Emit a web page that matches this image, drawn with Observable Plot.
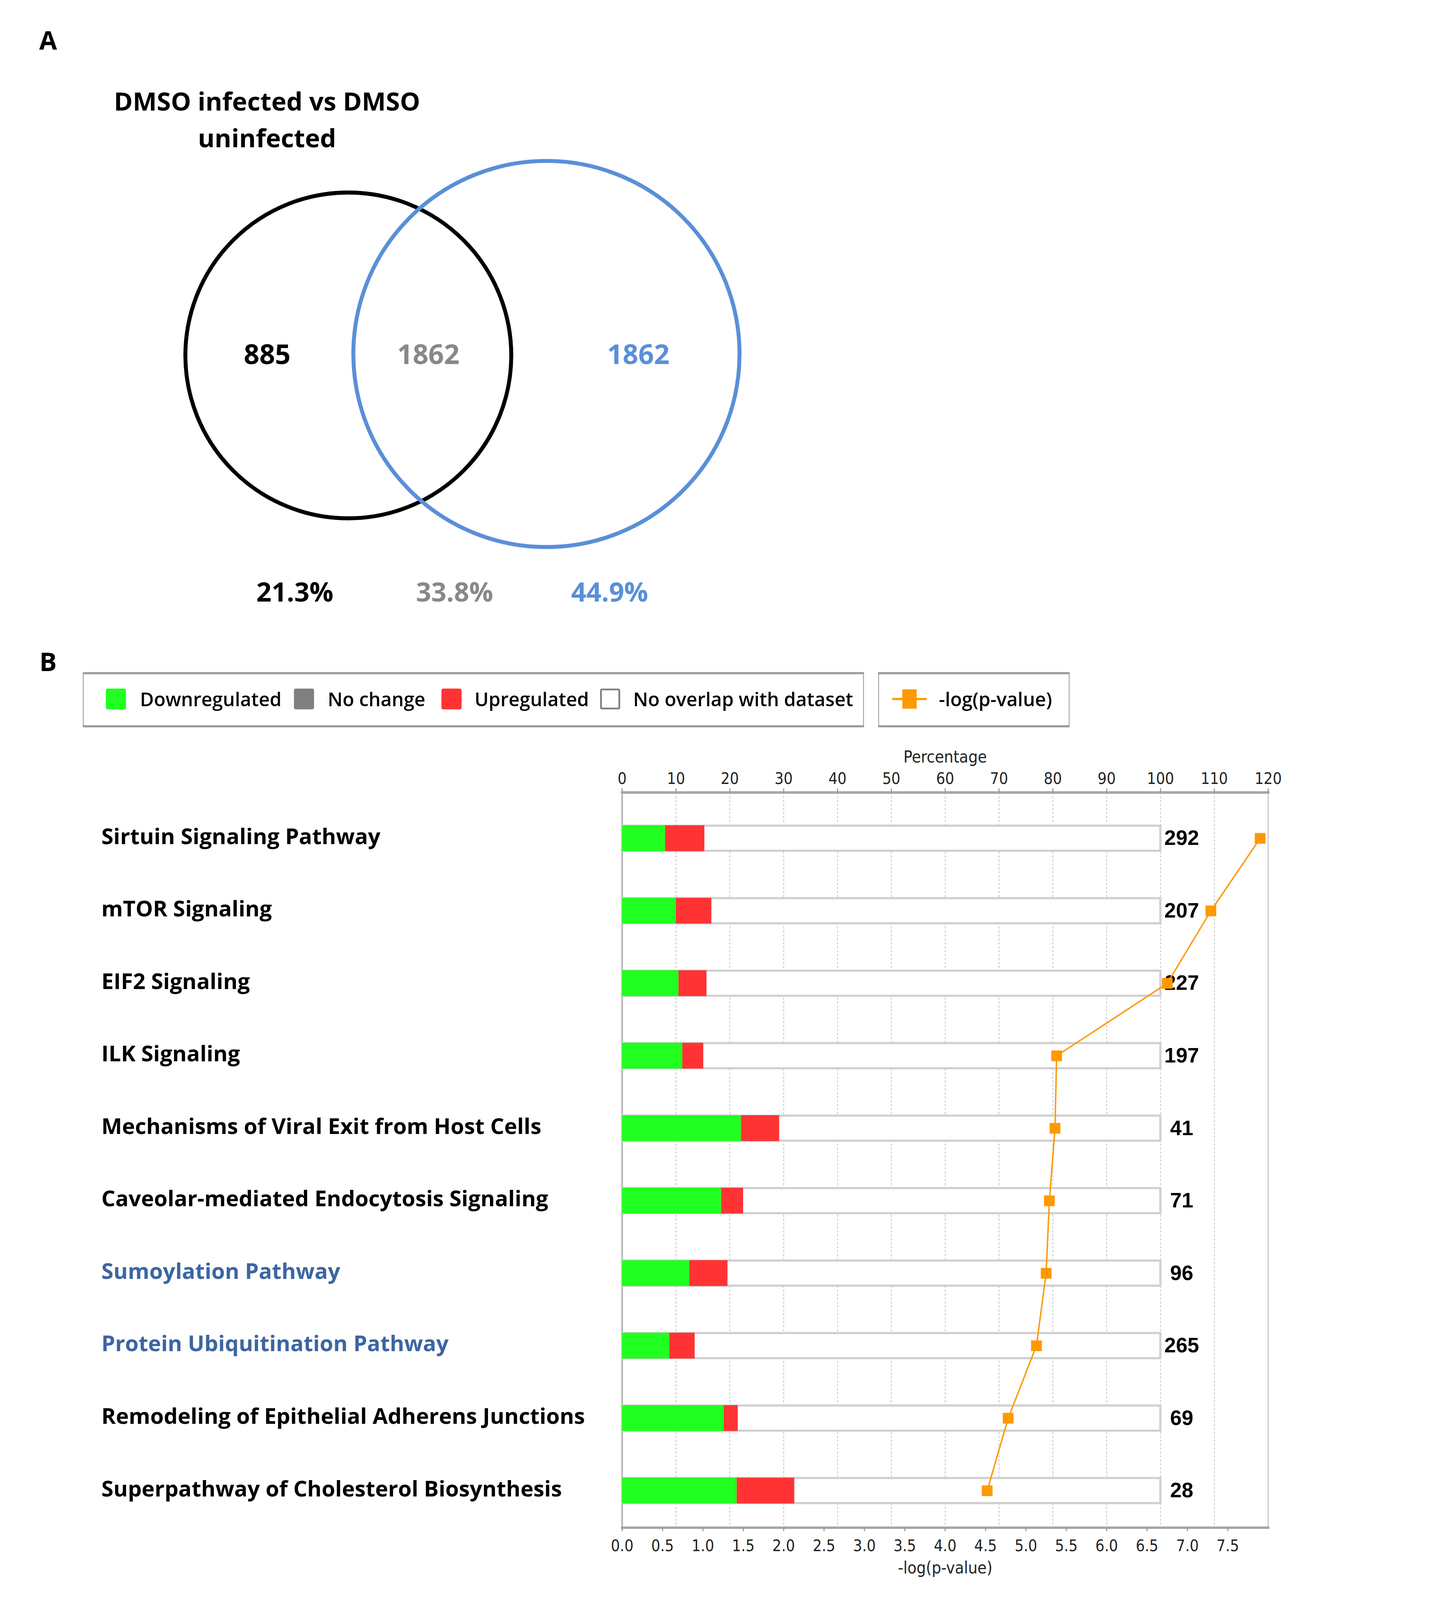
<!DOCTYPE html>
<html>
<head>
<meta charset="utf-8">
<script src="https://cdn.jsdelivr.net/npm/d3@7"></script>
<script src="https://cdn.jsdelivr.net/npm/@observablehq/plot@0.6"></script>
<style>
  html, body { margin: 0; padding: 0; background: #fff; overflow: hidden; }
  #page { position: relative; width: 3683px; height: 4459px; background: #fff; overflow: hidden; font-family: "Open Sans", Lato, sans-serif; transform-origin: 0 0; }
  .abs { position: absolute; white-space: nowrap; }
  .c { transform: translate(-50%, -50%); }
  .l { transform: translate(0, -50%); }
  .layer { position: absolute; left: 0; }
</style>
</head>
<body>
<div id="page"></div>
<script>
// ---------------- DATA ----------------
// Panel A (Venn)
const vennTitle = ["DMSO infected vs DMSO", "uninfected"];
const vennCounts = [885, 1862, 1862];
const vennPercents = ["21.3%", "33.8%", "44.9%"];

// Panel B (pathways)
const pathways = [
  "Sirtuin Signaling Pathway",
  "mTOR Signaling",
  "EIF2 Signaling",
  "ILK Signaling",
  "Mechanisms of Viral Exit from Host Cells",
  "Caveolar-mediated Endocytosis Signaling",
  "Sumoylation Pathway",
  "Protein Ubiquitination Pathway",
  "Remodeling of Epithelial Adherens Junctions",
  "Superpathway of Cholesterol Biosynthesis"
];
const downregulatedPct = [8.0, 10.0, 10.5, 11.2, 22.1, 18.4, 12.5, 8.8, 18.9, 21.3];
const upregulatedPct   = [7.3, 6.6, 5.2, 3.9, 7.1, 4.1, 7.1, 4.7, 2.6, 10.7];
const pathwaySizes     = [292, 207, 227, 197, 41, 71, 96, 265, 69, 28];
const negLogPValues    = [7.90, 7.29, 6.75, 5.38, 5.36, 5.29, 5.25, 5.13, 4.78, 4.52];
const highlightedPathways = ["Sumoylation Pathway", "Protein Ubiquitination Pathway"];

const percentTicks = [0, 10, 20, 30, 40, 50, 60, 70, 80, 90, 100, 110, 120];
const pValueTicks = [0, 0.5, 1, 1.5, 2, 2.5, 3, 3.5, 4, 4.5, 5, 5.5, 6, 6.5, 7, 7.5];
const legendCategories = ["Downregulated", "No change", "Upregulated", "No overlap with dataset"];
const lineLegendLabel = "-log(p-value)";

// ---------------- STYLE / LAYOUT ----------------
const GREEN = "#20ff20", GREY = "#808080", RED = "#ff3333", ORANGE = "#ff9900";
const VBLUE = "#5a8fd8", VGREY = "#888888", LBLUE = "#3c66a2";
const categoryColors = [GREEN, GREY, RED, "#ffffff"];
const tickFont = '"Liberation Sans Narrow", "DejaVu Sans Condensed", Roboto, sans-serif';
const labelFont = '"Open Sans", Lato, sans-serif';

const page = document.getElementById("page");
function addText(txt, x, y, cls, css) {
  const d = document.createElement("div");
  d.className = "abs " + cls;
  d.textContent = txt;
  d.style.left = x + "px";
  d.style.top = y + "px";
  Object.assign(d.style, css || {});
  page.appendChild(d);
  return d;
}

// Panel letters
addText("A", 134, 110, "c", {fontFamily: labelFont, fontWeight: 700, fontSize: "72px"});
addText("B", 134, 1842, "c", {fontFamily: labelFont, fontWeight: 700, fontSize: "72px"});

// ---------------- PANEL A : Venn ----------------
vennTitle.forEach((t, i) => addText(t, 744, 281 + i * 102, "c",
  {fontFamily: labelFont, fontWeight: 700, fontSize: "71px", color: "#000"}));

const vennCircles = [
  {cx: 970, cy: 990, r: 454, stroke: "#000000"},
  {cx: 1522, cy: 986, r: 538, stroke: VBLUE}
];
const vennNumPos = [[744, 990], [1193, 990], [1778, 990]];
const vennPctPos = [[821, 1652], [1266, 1652], [1698, 1652]];
const vennTextColors = ["#000000", VGREY, VBLUE];

const vennPlot = Plot.plot({
  width: 2200, height: 1750,
  margin: 0,
  x: {domain: [0, 2200], range: [0, 2200], axis: null},
  y: {domain: [0, 1750], range: [0, 1750], axis: null},
  r: {type: "linear", domain: [0, 1000], range: [0, 1000]},
  style: {background: "transparent", overflow: "visible"},
  marks: [
    ...vennCircles.map(c => Plot.dot([c], {x: "cx", y: "cy", r: "r", stroke: c.stroke, strokeWidth: 11, fill: "none"})),
    ...vennCounts.map((v, i) => Plot.text([v], {
      x: () => vennNumPos[i][0], y: () => vennNumPos[i][1], text: d => String(d),
      fill: vennTextColors[i], fontSize: 76, fontWeight: 700, fontFamily: labelFont, textAnchor: "middle"
    })),
    ...vennPercents.map((v, i) => Plot.text([v], {
      x: () => vennPctPos[i][0], y: () => vennPctPos[i][1], text: d => d,
      fill: vennTextColors[i], fontSize: 74, fontWeight: 700, fontFamily: labelFont, textAnchor: "middle"
    }))
  ]
});
vennPlot.classList.add("layer");
vennPlot.style.top = "0px";
page.appendChild(vennPlot);

// ---------------- LEGEND ----------------
function box(left, top, w, h) {
  const b = document.createElement("div");
  b.className = "abs";
  Object.assign(b.style, {left: left + "px", top: top + "px", width: w + "px", height: h + "px",
    boxSizing: "border-box", border: "2px solid #8e8e8e", borderTop: "6px solid #9c9c9c",
    borderBottom: "6px solid #9c9c9c", background: "#fff"});
  page.appendChild(b);
}
box(231, 1873, 2176, 154);
box(2447, 1873, 533, 154);
const swatchX = [295, 819, 1230, 1672];
const legendTextX = [390, 913, 1322, 1764];
legendCategories.forEach((cat, i) => {
  const s = document.createElement("div");
  s.className = "abs";
  const isHollow = categoryColors[i] === "#ffffff";
  Object.assign(s.style, {left: swatchX[i] + "px", top: "1919px", width: "56px", height: "58px",
    boxSizing: "border-box", borderRadius: "5px", background: categoryColors[i],
    border: isHollow ? "5px solid #808080" : "none"});
  page.appendChild(s);
  addText(cat, legendTextX[i], 1948, "l", {fontFamily: labelFont, fontWeight: 600, fontSize: "53px", color: "#000"});
});
{
  const ln = document.createElement("div");
  ln.className = "abs";
  Object.assign(ln.style, {left: "2486px", top: "1945px", width: "96px", height: "6px", background: ORANGE});
  page.appendChild(ln);
  const sq = document.createElement("div");
  sq.className = "abs";
  Object.assign(sq.style, {left: "2514px", top: "1921px", width: "40px", height: "54px", background: ORANGE});
  page.appendChild(sq);
  addText(lineLegendLabel, 2616, 1948, "l", {fontFamily: labelFont, fontWeight: 600, fontSize: "53px", color: "#000"});
}

// ---------------- PANEL B : bar chart ----------------
const rows = pathways.map((p, i) => ({
  pathway: p,
  down: downregulatedPct[i],
  up: upregulatedPct[i],
  none: 100 - downregulatedPct[i] - upregulatedPct[i],
  size: pathwaySizes[i],
  logp: negLogPValues[i]
}));
const segments = rows.flatMap(r => [
  {pathway: r.pathway, category: "Downregulated", value: r.down},
  {pathway: r.pathway, category: "Upregulated", value: r.up},
  {pathway: r.pathway, category: "No overlap with dataset", value: r.none}
]);

const PW = 3683, PTOP = 2050, PH = 4459 - 2050;
const M = {left: 1733, right: 150, top: 158, bottom: 202};
const yBand = {type: "band", domain: pathways, range: [181.4, 2209.4], padding: 0, axis: null};
const barInset = 66;
const nameStyle = {y: "pathway", frameAnchor: "left", dx: -1451, dy: -4, textAnchor: "start", text: "pathway",
  fontSize: 61, fontWeight: 700, fontFamily: labelFont};

const pctPlot = Plot.plot({
  width: PW, height: PH,
  marginLeft: M.left, marginRight: M.right, marginTop: M.top, marginBottom: M.bottom,
  x: {domain: [0, 120], nice: false, axis: null},
  y: yBand,
  color: {domain: legendCategories, range: categoryColors},
  style: {background: "transparent", overflow: "visible"},
  marks: [
    Plot.gridX(percentTicks.slice(1, -1), {stroke: "#c8c8c8", strokeOpacity: 1, strokeWidth: 2.5, strokeDasharray: "6,5"}),
    Plot.frame({anchor: "left", stroke: "#ababab", strokeWidth: 4}),
    Plot.frame({anchor: "right", stroke: "#d2d2d2", strokeWidth: 4}),
    Plot.frame({anchor: "top", stroke: "#a6a6a6", strokeWidth: 7}),
    Plot.frame({anchor: "bottom", stroke: "#a6a6a6", strokeWidth: 7}),
    Plot.axisX(percentTicks, {anchor: "top", tickSize: 12, tickPadding: 12, stroke: "#999", strokeWidth: 3,
      fill: "#222", fontSize: 44, fontWeight: 400, fontFamily: tickFont, label: null}),
    Plot.text(["Percentage"], {frameAnchor: "top", dy: -116, text: d => d, fill: "#222",
      fontSize: 46, fontWeight: 400, fontFamily: tickFont}),
    // full bar outline (sum of segments = 100%)
    Plot.barX(segments, Plot.groupY({x: "sum"}, {y: "pathway", x: "value", fill: "#ffffff",
      stroke: "#d0d0d0", strokeWidth: 6, insetTop: barInset, insetBottom: barInset})),
    // coloured stacked segments
    Plot.barX(segments.filter(d => d.category !== "No overlap with dataset"),
      Plot.stackX({y: "pathway", x: "value", fill: "category", order: legendCategories,
        insetTop: barInset - 1, insetBottom: barInset - 1})),
    // pathway size labels
    Plot.text(rows, {x: d => d.down + d.up + d.none, y: "pathway", text: d => String(d.size), dx: 59,
      textAnchor: "middle", fill: "#000", fontSize: 58, fontWeight: 700, fontFamily: '"Liberation Sans", Arial, sans-serif'}),
    // pathway names
    Plot.text(rows.filter(d => !highlightedPathways.includes(d.pathway)), {...nameStyle, fill: "#000000"}),
    Plot.text(rows.filter(d => highlightedPathways.includes(d.pathway)), {...nameStyle, fill: LBLUE})
  ]
});
pctPlot.classList.add("layer");
pctPlot.style.top = PTOP + "px";
page.appendChild(pctPlot);

const pPlot = Plot.plot({
  width: PW, height: PH,
  marginLeft: M.left, marginRight: M.right, marginTop: M.top, marginBottom: M.bottom,
  x: {domain: [0, 8], nice: false, axis: null},
  y: yBand,
  style: {background: "transparent", overflow: "visible"},
  marks: [
    Plot.axisX(pValueTicks, {anchor: "bottom", tickSize: 10, tickPadding: 24, tickFormat: d3.format(".1f"),
      stroke: "#999", strokeWidth: 3, fill: "#222", fontSize: 44, fontWeight: 400, fontFamily: tickFont, label: null}),
    Plot.text([lineLegendLabel], {frameAnchor: "bottom", dy: 128, text: d => d, fill: "#222",
      fontSize: 46, fontWeight: 400, fontFamily: tickFont}),
    Plot.line(rows, {x: "logp", y: "pathway", stroke: ORANGE, strokeWidth: 4}),
    Plot.dot(rows, {x: "logp", y: "pathway", symbol: "square", r: 16.9, fill: ORANGE, stroke: "none"})
  ]
});
pPlot.classList.add("layer");
pPlot.style.top = PTOP + "px";
page.appendChild(pPlot);

// fit the page into the viewport if the viewport is smaller than the design size
function fit() {
  const s = Math.min(1, window.innerWidth / 3683, window.innerHeight / 4459);
  page.style.transform = s < 1 ? `scale(${s})` : "none";
}
fit();
window.addEventListener("resize", fit);
</script>
</body>
</html>
